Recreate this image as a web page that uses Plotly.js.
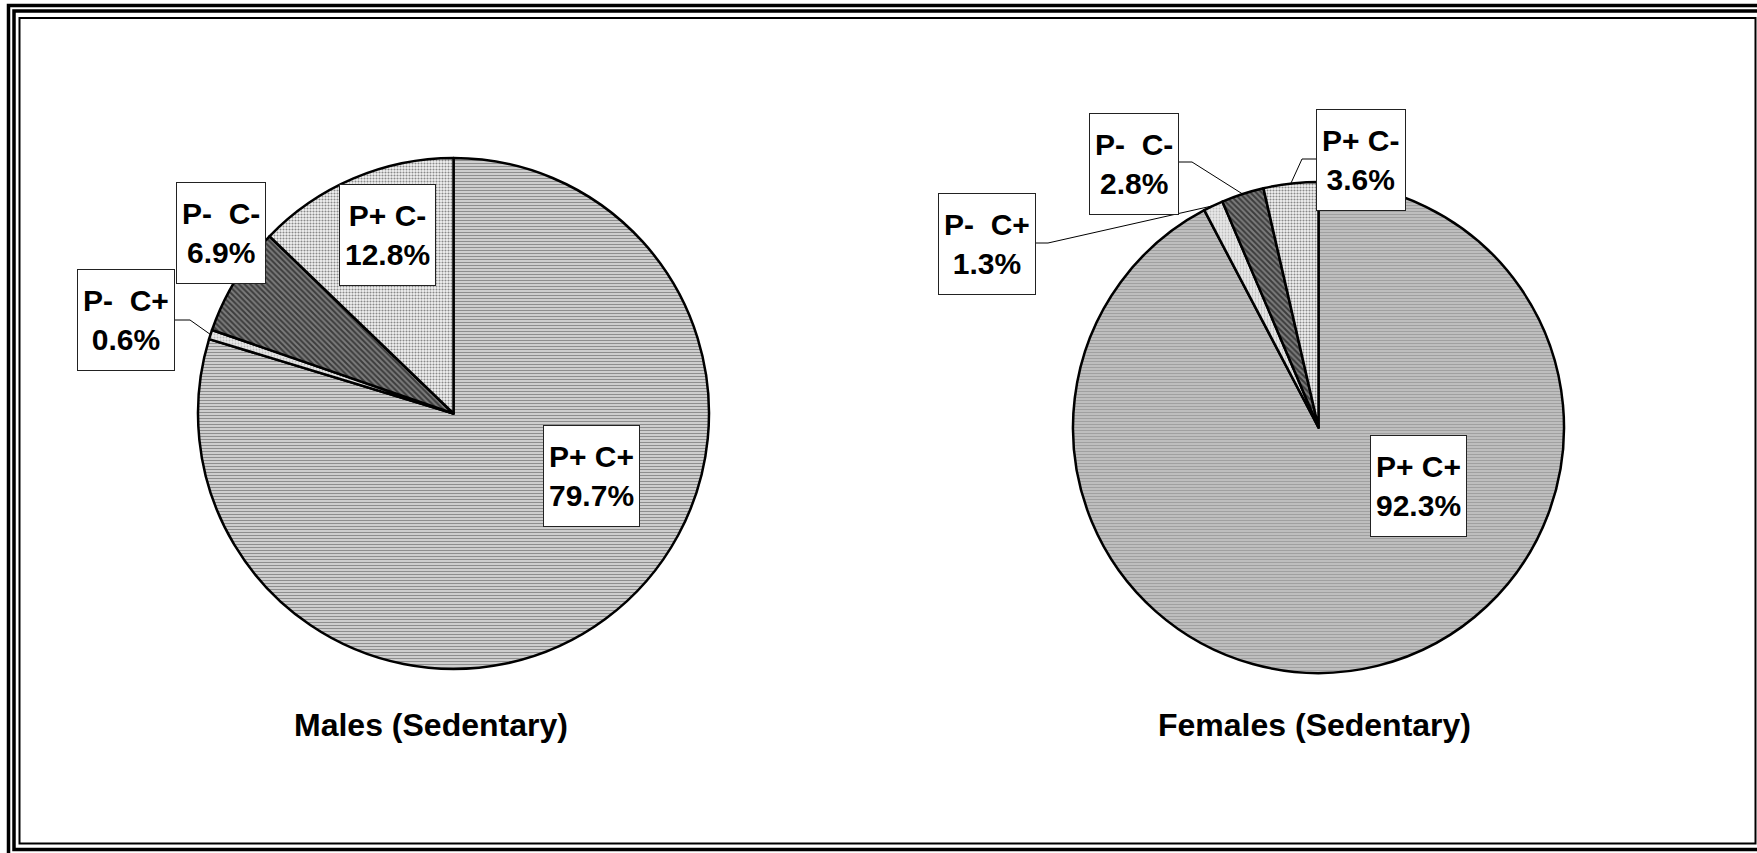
<!DOCTYPE html>
<html><head><meta charset="utf-8">
<script src="https://cdn.plot.ly/plotly-3.0.1.min.js"></script>
<style>html,body{margin:0;padding:0;background:#fff;overflow:hidden}#chart{width:1757px;height:853px}</style>
</head><body><div id="chart"></div><script>
// ---- data ----
const categories = ['P+ C+', 'P-\u00a0 C+', 'P-\u00a0 C-', 'P+ C-'];
const malesValues = [79.7, 0.6, 6.9, 12.8];
const femalesValues = [92.3, 1.3, 2.8, 3.6];
const chartTitles = ['Males (Sedentary)', 'Females (Sedentary)'];

// ---- layout helpers ----
const W = 1757, H = 853;
const px = x => x / W;
const py = y => 1 - y / H;
const FONT = 'Liberation Sans, Arial, Helvetica, sans-serif';

const pies = [
  {values: malesValues, cx: 453.5, cy: 413.5, r: 255.5, title: {x: 431, y: 725},
   labels: [{x: 591, y: 476}, {x: 126, y: 320, leader: {sx: 175, sy: 320, ex: 190}},
            {x: 221.5, y: 232.5}, {x: 387.5, y: 234.5}],
   style: {bg0: '#ffffff', fg0: '#8e8e8e'}},
  {values: femalesValues, cx: 1318.5, cy: 427.5, r: 245.5, title: {x: 1314, y: 725},
   labels: [{x: 1418, y: 486}, {x: 986.5, y: 244, leader: {sx: 1036, sy: 243, ex: 1048}},
            {x: 1134, y: 164, leader: {sx: 1179, sy: 162, ex: 1192}},
            {x: 1361, y: 160, leader: {sx: 1316, sy: 159, ex: 1302}}],
   style: {bg0: '#d4d4d4', fg0: '#a0a0a0'}}
];

const traces = [], annotations = [], shapes = [];

pies.forEach((p, k) => {
  traces.push({
    type: 'pie', values: p.values, labels: categories, sort: false,
    direction: 'clockwise', rotation: 0, textinfo: 'none', hoverinfo: 'label+percent',
    showlegend: false,
    domain: {x: [px(p.cx - p.r), px(p.cx + p.r)], y: [py(p.cy + p.r), py(p.cy - p.r)]},
    marker: {
      colors: [p.style.bg0, '#e0e0e0', '#666666', '#ffffff'],
      line: {color: '#000', width: 2.5},
      pattern: {
        shape: ['-', '.', '\\', '.'],
        bgcolor: [p.style.bg0, '#e8e8e8', '#7c7c7c', '#f4f4f4'],
        fgcolor: [p.style.fg0, '#bdbdbd', '#3c3c3c', '#8a8a8a'],
        size: [3, 3, 4, 3],
        solidity: [0.62, 0.3, 0.5, 0.4]
      }
    }
  });
  const total = p.values.reduce((a, b) => a + b, 0);
  let cum = 0;
  p.values.forEach((v, i) => {
    const mid = (cum + v / 2) / total * 2 * Math.PI;
    cum += v;
    const L = p.labels[i];
    annotations.push({
      xref: 'paper', yref: 'paper', x: px(L.x), y: py(L.y), xanchor: 'center', yanchor: 'middle',
      text: categories[i] + '<br>' + v.toFixed(1) + '%', showarrow: false,
      font: {family: FONT, size: 30, color: '#000', weight: 'bold'},
      bgcolor: '#fff', bordercolor: '#222', borderwidth: 1, borderpad: 5, height: 90,
      align: 'center', valign: 'middle'
    });
    if (L.leader) {
      const exX = p.cx + p.r * Math.sin(mid), exY = p.cy - p.r * Math.cos(mid);
      shapes.push({type: 'path', xref: 'paper', yref: 'paper', layer: 'above',
        path: `M${px(L.leader.sx)},${py(L.leader.sy)} L${px(L.leader.ex)},${py(L.leader.sy)} L${px(exX)},${py(exY)}`,
        line: {color: '#000', width: 1}});
    }
  });
  annotations.push({
    xref: 'paper', yref: 'paper', x: px(p.title.x), y: py(p.title.y), xanchor: 'center', yanchor: 'middle',
    text: chartTitles[k], showarrow: false,
    font: {family: FONT, size: 32, color: '#000', weight: 'bold'}
  });
});

// frame (triple border)
[[8.5, 5.5, 1790, 870, 3.5], [14, 11, 1760, 849.5, 3.5], [19.5, 18, 1755.5, 843.5, 2]].forEach(b => {
  shapes.push({type: 'rect', xref: 'paper', yref: 'paper', x0: px(b[0]), y0: py(b[1]), x1: px(b[2]), y1: py(b[3]),
    line: {color: '#000', width: b[4]}, fillcolor: 'rgba(0,0,0,0)', layer: 'above'});
});

Plotly.newPlot('chart', traces, {
  width: W, height: H, margin: {l: 0, r: 0, t: 0, b: 0},
  paper_bgcolor: '#fff', plot_bgcolor: '#fff',
  annotations, shapes
}, {displayModeBar: false, staticPlot: true});
</script></body></html>
